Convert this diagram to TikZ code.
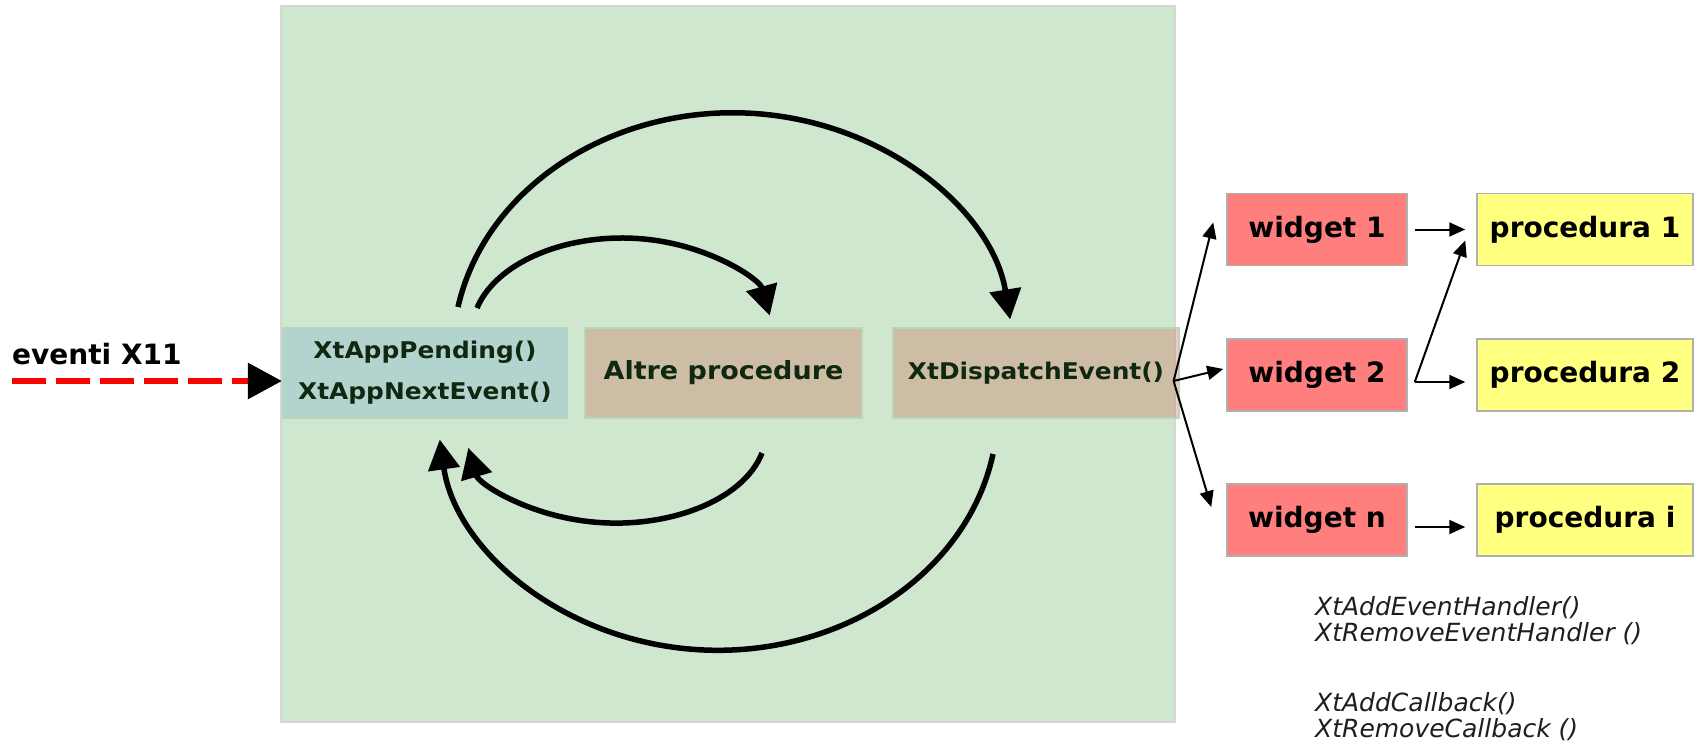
\documentclass[tikz,border=0pt]{standalone}
\usepackage{fontspec}
\setmainfont{DejaVu Sans}
\newfontfamily\widefont[FakeStretch=1.08]{DejaVu Sans}
\usetikzlibrary{arrows.meta}

\definecolor{panelgreen}{RGB}{207,230,207}
\definecolor{panelrim}{RGB}{214,214,214}
\definecolor{pollblue}{RGB}{179,211,206}
\definecolor{boxedge}{RGB}{186,214,186}
\definecolor{tanbase}{RGB}{201,113,84}
\definecolor{darkleaf}{RGB}{16,40,16}
\definecolor{widgetred}{RGB}{255,127,127}
\definecolor{procyellow}{RGB}{255,255,128}
\definecolor{boxrim}{RGB}{176,176,176}
\definecolor{apigray}{RGB}{30,30,30}

\tikzset{
  loopbox/.style={draw=boxedge, line width=1.2pt, minimum height=90pt,
    inner sep=0pt, text=darkleaf, align=center},
  tanbox/.style={loopbox, fill=tanbase, fill opacity=0.35, text opacity=1},
  cellbox/.style={draw=boxrim, line width=1.5pt, minimum height=72pt,
    inner sep=0pt, font=\bfseries\fontsize{28}{30}\selectfont},
  widgetbox/.style={cellbox, fill=widgetred, minimum width=180pt},
  procbox/.style={cellbox, fill=procyellow, minimum width=216pt},
  bigarrow/.style={line width=5.5pt, -{Triangle[length=30pt,width=31pt]}},
  thinarrow/.style={line width=2pt, -{Triangle[length=16pt,width=14pt]}},
  apitext/.style={inner sep=0pt, align=left, text=apigray,
    font=\itshape\fontsize{25}{26}\selectfont}
}

\begin{document}
\begin{tikzpicture}[x=1pt,y=1pt]
  \useasboundingbox (0,0) rectangle (1698,-744);

  % event-loop panel
  \fill[panelgreen] (281,-6) rectangle (1175,-722);
  \draw[panelrim, line width=1.5pt] (281,-6) rectangle (1175,-722);

  % boxes of the loop
  \node[loopbox, fill=pollblue, minimum width=285pt,
        font=\widefont\bfseries\fontsize{23}{41}\selectfont]
        (poll) at (425,-373) {XtAppPending()\\XtAppNextEvent()};
  \node[tanbox, minimum width=277pt,
        font=\widefont\bfseries\fontsize{25}{28}\selectfont]
        (other) at (723.5,-373) {Altre procedure};
  \node[tanbox, minimum width=286pt,
        font=\widefont\bfseries\fontsize{23}{26}\selectfont]
        (dispatch) at (1036,-373) {XtDispatchEvent()};

  % incoming X11 events
  \node[anchor=west, inner sep=0pt, font=\bfseries\fontsize{28}{30}\selectfont]
        (ev) at (12,-354) {eventi X11};
  \coordinate (evstart) at (12,-381);
  \draw[red, line width=6pt, dash pattern=on 34pt off 10pt,
        -{Triangle[length=34pt,width=35pt,color=black]}]
        (evstart) -- ([yshift=-8pt]poll.west);

  % loop arcs
  \coordinate (outerTop) at (458,-307);
  \coordinate (innerTop) at (477,-308);
  \coordinate (innerBot) at (762,-453);
  \coordinate (outerBot) at (993,-454);
  \draw[bigarrow] (outerTop)
     arc[start angle=169, end angle=8, x radius=280, y radius=240];
  \draw[bigarrow] (innerTop)
     arc[start angle=165.2, end angle=10, x radius=150, y radius=94];
  \draw[bigarrow] (innerBot)
     arc[start angle=-13.3, end angle=-170, x radius=150, y radius=91];
  \draw[bigarrow] (outerBot)
     arc[start angle=-10.5, end angle=-173, x radius=280, y radius=240];

  % widgets and their procedures
  \node[widgetbox] (w1) at (1317,-229.5) {widget 1};
  \node[widgetbox] (w2) at (1317,-375) {widget 2};
  \node[widgetbox] (wn) at (1317,-520) {widget n};
  \node[procbox] (p1) at (1585,-229.5) {procedura 1};
  \node[procbox] (p2) at (1585,-375) {procedura 2};
  \node[procbox] (pn) at (1585,-520) {procedura i};

  % dispatch fan-out
  \coordinate (fan) at ([xshift=-6pt,yshift=-8pt]dispatch.east);
  \draw[thinarrow] (fan) -- ([xshift=-13pt,yshift=7pt]w1.west);
  \draw[thinarrow] (fan) -- ([xshift=-3pt,yshift=6pt]w2.west);
  \draw[thinarrow] (fan) -- ([xshift=-15pt,yshift=13pt]wn.west);

  % widget callbacks
  \draw[thinarrow] ([xshift=7pt]w1.east) -- ([xshift=-11pt]p1.west);
  \draw[thinarrow] ([xshift=7pt,yshift=-7pt]w2.east) -- ([xshift=-11pt,yshift=-7pt]p2.west);
  \draw[thinarrow] ([xshift=7pt,yshift=-7pt]w2.east) -- ([xshift=-11pt,yshift=-11pt]p1.west);
  \draw[thinarrow] ([xshift=7pt,yshift=-7pt]wn.east) -- ([xshift=-11pt,yshift=-7pt]pn.west);

  % registration calls
  \node[apitext, anchor=north west] (handlers) at (1315,-596)
        {XtAddEventHandler()\\XtRemoveEventHandler ()};
  \node[apitext, anchor=north west] (callbacks) at (1315,-692)
        {XtAddCallback()\\XtRemoveCallback ()};
\end{tikzpicture}
\end{document}
